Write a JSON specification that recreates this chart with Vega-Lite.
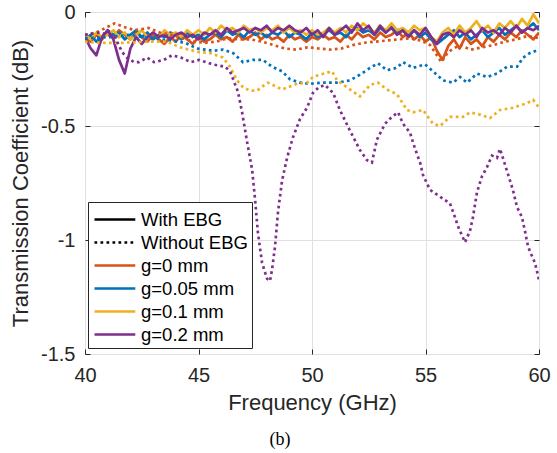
{
"$schema":"https://vega.github.io/schema/vega-lite/v6.json",
"width":454,"height":342,
"autosize":{"type":"none"},
"padding":{"left":85,"top":12,"right":18,"bottom":99},
"background":"white",
"config":{"view":{"stroke":"#262626","strokeWidth":1},"font":"Liberation Sans"},
"title":{"text":"(b)","orient":"bottom","font":"Liberation Serif","fontSize":18,"fontWeight":"normal","color":"#000000","offset":18,"dx":-32},
"resolve":{"axis":{"x":"independent","y":"independent"}},
"datasets":{
"solid":[
{"f":40.00,"g0":-0.11,"g005":-0.12,"g01":-0.10,"g02":-0.11},
{"f":40.25,"g0":-0.13,"g005":-0.10,"g01":-0.12,"g02":-0.16},
{"f":40.50,"g0":-0.10,"g005":-0.13,"g01":-0.09,"g02":-0.19},
{"f":40.75,"g0":-0.12,"g005":-0.11,"g01":-0.11,"g02":-0.11},
{"f":41.00,"g0":-0.09,"g005":-0.08,"g01":-0.10,"g02":-0.08},
{"f":41.25,"g0":-0.11,"g005":-0.10,"g01":-0.08,"g02":-0.12},
{"f":41.50,"g0":-0.08,"g005":-0.09,"g01":-0.11,"g02":-0.21},
{"f":41.75,"g0":-0.10,"g005":-0.12,"g01":-0.09,"g02":-0.27},
{"f":42.00,"g0":-0.12,"g005":-0.10,"g01":-0.12,"g02":-0.16},
{"f":42.25,"g0":-0.09,"g005":-0.08,"g01":-0.10,"g02":-0.11},
{"f":42.50,"g0":-0.11,"g005":-0.11,"g01":-0.08,"g02":-0.14},
{"f":42.75,"g0":-0.13,"g005":-0.09,"g01":-0.11,"g02":-0.11},
{"f":43.00,"g0":-0.10,"g005":-0.12,"g01":-0.09,"g02":-0.09},
{"f":43.25,"g0":-0.12,"g005":-0.10,"g01":-0.11,"g02":-0.11},
{"f":43.50,"g0":-0.14,"g005":-0.11,"g01":-0.08,"g02":-0.10},
{"f":43.75,"g0":-0.11,"g005":-0.09,"g01":-0.10,"g02":-0.12},
{"f":44.00,"g0":-0.13,"g005":-0.10,"g01":-0.09,"g02":-0.10},
{"f":44.25,"g0":-0.10,"g005":-0.12,"g01":-0.11,"g02":-0.09},
{"f":44.50,"g0":-0.12,"g005":-0.09,"g01":-0.08,"g02":-0.11},
{"f":44.75,"g0":-0.14,"g005":-0.11,"g01":-0.10,"g02":-0.10},
{"f":45.00,"g0":-0.11,"g005":-0.10,"g01":-0.08,"g02":-0.12},
{"f":45.25,"g0":-0.13,"g005":-0.12,"g01":-0.10,"g02":-0.09},
{"f":45.50,"g0":-0.12,"g005":-0.10,"g01":-0.07,"g02":-0.10},
{"f":45.75,"g0":-0.10,"g005":-0.09,"g01":-0.09,"g02":-0.08},
{"f":46.00,"g0":-0.12,"g005":-0.11,"g01":-0.06,"g02":-0.10},
{"f":46.25,"g0":-0.11,"g005":-0.08,"g01":-0.08,"g02":-0.07},
{"f":46.50,"g0":-0.13,"g005":-0.10,"g01":-0.07,"g02":-0.09},
{"f":46.75,"g0":-0.10,"g005":-0.09,"g01":-0.09,"g02":-0.08},
{"f":47.00,"g0":-0.12,"g005":-0.11,"g01":-0.06,"g02":-0.07},
{"f":47.25,"g0":-0.11,"g005":-0.08,"g01":-0.08,"g02":-0.09},
{"f":47.50,"g0":-0.09,"g005":-0.10,"g01":-0.07,"g02":-0.07},
{"f":47.75,"g0":-0.12,"g005":-0.09,"g01":-0.09,"g02":-0.08},
{"f":48.00,"g0":-0.10,"g005":-0.11,"g01":-0.07,"g02":-0.06},
{"f":48.25,"g0":-0.12,"g005":-0.09,"g01":-0.08,"g02":-0.09},
{"f":48.50,"g0":-0.11,"g005":-0.10,"g01":-0.06,"g02":-0.07},
{"f":48.75,"g0":-0.13,"g005":-0.08,"g01":-0.09,"g02":-0.08},
{"f":49.00,"g0":-0.10,"g005":-0.11,"g01":-0.07,"g02":-0.06},
{"f":49.25,"g0":-0.12,"g005":-0.09,"g01":-0.09,"g02":-0.08},
{"f":49.50,"g0":-0.11,"g005":-0.10,"g01":-0.08,"g02":-0.09},
{"f":49.75,"g0":-0.13,"g005":-0.12,"g01":-0.10,"g02":-0.07},
{"f":50.00,"g0":-0.11,"g005":-0.09,"g01":-0.08,"g02":-0.10},
{"f":50.25,"g0":-0.12,"g005":-0.11,"g01":-0.10,"g02":-0.08},
{"f":50.50,"g0":-0.10,"g005":-0.10,"g01":-0.09,"g02":-0.11},
{"f":50.75,"g0":-0.12,"g005":-0.08,"g01":-0.07,"g02":-0.07},
{"f":51.00,"g0":-0.11,"g005":-0.10,"g01":-0.09,"g02":-0.10},
{"f":51.25,"g0":-0.13,"g005":-0.09,"g01":-0.07,"g02":-0.08},
{"f":51.50,"g0":-0.10,"g005":-0.11,"g01":-0.09,"g02":-0.06},
{"f":51.75,"g0":-0.12,"g005":-0.08,"g01":-0.06,"g02":-0.09},
{"f":52.00,"g0":-0.09,"g005":-0.07,"g01":-0.08,"g02":-0.05},
{"f":52.25,"g0":-0.11,"g005":-0.09,"g01":-0.05,"g02":-0.08},
{"f":52.50,"g0":-0.10,"g005":-0.08,"g01":-0.07,"g02":-0.06},
{"f":52.75,"g0":-0.12,"g005":-0.10,"g01":-0.09,"g02":-0.10},
{"f":53.00,"g0":-0.09,"g005":-0.07,"g01":-0.06,"g02":-0.06},
{"f":53.25,"g0":-0.11,"g005":-0.09,"g01":-0.08,"g02":-0.09},
{"f":53.50,"g0":-0.10,"g005":-0.06,"g01":-0.05,"g02":-0.07},
{"f":53.75,"g0":-0.08,"g005":-0.09,"g01":-0.08,"g02":-0.10},
{"f":54.00,"g0":-0.11,"g005":-0.08,"g01":-0.07,"g02":-0.08},
{"f":54.25,"g0":-0.09,"g005":-0.10,"g01":-0.09,"g02":-0.11},
{"f":54.50,"g0":-0.12,"g005":-0.08,"g01":-0.06,"g02":-0.08},
{"f":54.75,"g0":-0.10,"g005":-0.11,"g01":-0.08,"g02":-0.10},
{"f":55.00,"g0":-0.13,"g005":-0.09,"g01":-0.07,"g02":-0.07},
{"f":55.25,"g0":-0.11,"g005":-0.12,"g01":-0.11,"g02":-0.11},
{"f":55.50,"g0":-0.17,"g005":-0.14,"g01":-0.13,"g02":-0.14},
{"f":55.75,"g0":-0.21,"g005":-0.12,"g01":-0.09,"g02":-0.10},
{"f":56.00,"g0":-0.15,"g005":-0.10,"g01":-0.07,"g02":-0.09},
{"f":56.25,"g0":-0.12,"g005":-0.08,"g01":-0.10,"g02":-0.11},
{"f":56.50,"g0":-0.16,"g005":-0.11,"g01":-0.06,"g02":-0.08},
{"f":56.75,"g0":-0.11,"g005":-0.09,"g01":-0.09,"g02":-0.10},
{"f":57.00,"g0":-0.14,"g005":-0.12,"g01":-0.07,"g02":-0.08},
{"f":57.25,"g0":-0.12,"g005":-0.10,"g01":-0.04,"g02":-0.11},
{"f":57.50,"g0":-0.15,"g005":-0.08,"g01":-0.08,"g02":-0.07},
{"f":57.75,"g0":-0.11,"g005":-0.11,"g01":-0.06,"g02":-0.09},
{"f":58.00,"g0":-0.13,"g005":-0.09,"g01":-0.09,"g02":-0.08},
{"f":58.25,"g0":-0.10,"g005":-0.07,"g01":-0.05,"g02":-0.10},
{"f":58.50,"g0":-0.12,"g005":-0.10,"g01":-0.07,"g02":-0.07},
{"f":58.75,"g0":-0.09,"g005":-0.08,"g01":-0.04,"g02":-0.09},
{"f":59.00,"g0":-0.11,"g005":-0.06,"g01":-0.07,"g02":-0.06},
{"f":59.25,"g0":-0.08,"g005":-0.09,"g01":-0.03,"g02":-0.09},
{"f":59.50,"g0":-0.10,"g005":-0.07,"g01":-0.06,"g02":-0.07},
{"f":59.75,"g0":-0.12,"g005":-0.05,"g01":-0.01,"g02":-0.08},
{"f":60.00,"g0":-0.09,"g005":-0.08,"g01":-0.05,"g02":-0.06}
],
"dotted":[
{"f":40,"v":-0.10,"g":"g0"},{"f":40.5,"v":-0.09,"g":"g0"},{"f":41,"v":-0.065,"g":"g0"},{"f":41.3,"v":-0.05,"g":"g0"},{"f":41.7,"v":-0.065,"g":"g0"},{"f":42.2,"v":-0.08,"g":"g0"},{"f":42.8,"v":-0.07,"g":"g0"},{"f":43.3,"v":-0.09,"g":"g0"},{"f":43.8,"v":-0.10,"g":"g0"},{"f":44.3,"v":-0.115,"g":"g0"},{"f":44.8,"v":-0.13,"g":"g0"},{"f":45.3,"v":-0.135,"g":"g0"},{"f":45.8,"v":-0.13,"g":"g0"},{"f":46.3,"v":-0.115,"g":"g0"},{"f":46.8,"v":-0.12,"g":"g0"},{"f":47.3,"v":-0.12,"g":"g0"},{"f":47.8,"v":-0.13,"g":"g0"},{"f":48.3,"v":-0.145,"g":"g0"},{"f":48.8,"v":-0.16,"g":"g0"},{"f":49.3,"v":-0.165,"g":"g0"},{"f":49.8,"v":-0.155,"g":"g0"},{"f":50.3,"v":-0.16,"g":"g0"},{"f":50.8,"v":-0.165,"g":"g0"},{"f":51.3,"v":-0.16,"g":"g0"},{"f":51.8,"v":-0.145,"g":"g0"},{"f":52.3,"v":-0.135,"g":"g0"},{"f":52.8,"v":-0.13,"g":"g0"},{"f":53.3,"v":-0.125,"g":"g0"},{"f":53.8,"v":-0.12,"g":"g0"},{"f":54.3,"v":-0.115,"g":"g0"},{"f":54.8,"v":-0.125,"g":"g0"},{"f":55.2,"v":-0.145,"g":"g0"},{"f":55.5,"v":-0.19,"g":"g0"},{"f":55.7,"v":-0.22,"g":"g0"},{"f":56,"v":-0.175,"g":"g0"},{"f":56.5,"v":-0.145,"g":"g0"},{"f":57,"v":-0.165,"g":"g0"},{"f":57.5,"v":-0.155,"g":"g0"},{"f":58,"v":-0.145,"g":"g0"},{"f":58.5,"v":-0.13,"g":"g0"},{"f":59,"v":-0.12,"g":"g0"},{"f":59.5,"v":-0.105,"g":"g0"},{"f":60,"v":-0.115,"g":"g0"},
{"f":40,"v":-0.115,"g":"g005"},{"f":41.1,"v":-0.11,"g":"g005"},{"f":41.98,"v":-0.10,"g":"g005"},{"f":42.86,"v":-0.115,"g":"g005"},{"f":43.74,"v":-0.125,"g":"g005"},{"f":44.41,"v":-0.135,"g":"g005"},{"f":44.93,"v":-0.16,"g":"g005"},{"f":45.64,"v":-0.17,"g":"g005"},{"f":46.08,"v":-0.165,"g":"g005"},{"f":46.52,"v":-0.18,"g":"g005"},{"f":46.96,"v":-0.22,"g":"g005"},{"f":47.4,"v":-0.21,"g":"g005"},{"f":47.84,"v":-0.21,"g":"g005"},{"f":48.24,"v":-0.24,"g":"g005"},{"f":48.68,"v":-0.26,"g":"g005"},{"f":49.03,"v":-0.295,"g":"g005"},{"f":49.47,"v":-0.31,"g":"g005"},{"f":49.91,"v":-0.315,"g":"g005"},{"f":50.48,"v":-0.31,"g":"g005"},{"f":51.1,"v":-0.31,"g":"g005"},{"f":51.67,"v":-0.30,"g":"g005"},{"f":52.11,"v":-0.275,"g":"g005"},{"f":52.56,"v":-0.245,"g":"g005"},{"f":52.91,"v":-0.225,"g":"g005"},{"f":53.3,"v":-0.255,"g":"g005"},{"f":53.74,"v":-0.245,"g":"g005"},{"f":54.01,"v":-0.22,"g":"g005"},{"f":54.45,"v":-0.245,"g":"g005"},{"f":54.98,"v":-0.23,"g":"g005"},{"f":55.33,"v":-0.26,"g":"g005"},{"f":55.77,"v":-0.30,"g":"g005"},{"f":56.21,"v":-0.31,"g":"g005"},{"f":56.52,"v":-0.285,"g":"g005"},{"f":56.83,"v":-0.31,"g":"g005"},{"f":57.27,"v":-0.27,"g":"g005"},{"f":57.71,"v":-0.285,"g":"g005"},{"f":58.15,"v":-0.27,"g":"g005"},{"f":58.59,"v":-0.24,"g":"g005"},{"f":59.03,"v":-0.24,"g":"g005"},{"f":59.3,"v":-0.20,"g":"g005"},{"f":59.6,"v":-0.18,"g":"g005"},{"f":60,"v":-0.165,"g":"g005"},
{"f":40,"v":-0.13,"g":"g01"},{"f":40.66,"v":-0.135,"g":"g01"},{"f":41.67,"v":-0.135,"g":"g01"},{"f":42.73,"v":-0.13,"g":"g01"},{"f":43.61,"v":-0.13,"g":"g01"},{"f":44.19,"v":-0.155,"g":"g01"},{"f":44.98,"v":-0.175,"g":"g01"},{"f":45.51,"v":-0.18,"g":"g01"},{"f":46.08,"v":-0.20,"g":"g01"},{"f":46.39,"v":-0.24,"g":"g01"},{"f":46.7,"v":-0.30,"g":"g01"},{"f":46.96,"v":-0.33,"g":"g01"},{"f":47.27,"v":-0.345,"g":"g01"},{"f":47.58,"v":-0.345,"g":"g01"},{"f":47.84,"v":-0.325,"g":"g01"},{"f":48.06,"v":-0.31,"g":"g01"},{"f":48.28,"v":-0.32,"g":"g01"},{"f":48.68,"v":-0.34,"g":"g01"},{"f":48.94,"v":-0.33,"g":"g01"},{"f":49.34,"v":-0.315,"g":"g01"},{"f":49.78,"v":-0.31,"g":"g01"},{"f":50.04,"v":-0.285,"g":"g01"},{"f":50.35,"v":-0.275,"g":"g01"},{"f":50.88,"v":-0.26,"g":"g01"},{"f":51.1,"v":-0.30,"g":"g01"},{"f":51.54,"v":-0.33,"g":"g01"},{"f":52.11,"v":-0.37,"g":"g01"},{"f":52.56,"v":-0.32,"g":"g01"},{"f":52.91,"v":-0.31,"g":"g01"},{"f":53.3,"v":-0.34,"g":"g01"},{"f":53.74,"v":-0.36,"g":"g01"},{"f":53.96,"v":-0.395,"g":"g01"},{"f":54.19,"v":-0.43,"g":"g01"},{"f":54.45,"v":-0.44,"g":"g01"},{"f":54.89,"v":-0.43,"g":"g01"},{"f":55.33,"v":-0.49,"g":"g01"},{"f":55.64,"v":-0.50,"g":"g01"},{"f":56.08,"v":-0.46,"g":"g01"},{"f":56.65,"v":-0.46,"g":"g01"},{"f":56.96,"v":-0.44,"g":"g01"},{"f":57.4,"v":-0.45,"g":"g01"},{"f":57.84,"v":-0.465,"g":"g01"},{"f":58.28,"v":-0.43,"g":"g01"},{"f":58.85,"v":-0.42,"g":"g01"},{"f":59.47,"v":-0.40,"g":"g01"},{"f":59.74,"v":-0.385,"g":"g01"},{"f":60,"v":-0.42,"g":"g01"},
{"f":40,"v":-0.10,"g":"g02"},{"f":40.66,"v":-0.09,"g":"g02"},{"f":41.32,"v":-0.11,"g":"g02"},{"f":41.63,"v":-0.175,"g":"g02"},{"f":41.85,"v":-0.20,"g":"g02"},{"f":42.16,"v":-0.22,"g":"g02"},{"f":42.38,"v":-0.22,"g":"g02"},{"f":42.73,"v":-0.20,"g":"g02"},{"f":43.04,"v":-0.22,"g":"g02"},{"f":43.48,"v":-0.21,"g":"g02"},{"f":43.83,"v":-0.19,"g":"g02"},{"f":44.23,"v":-0.20,"g":"g02"},{"f":44.67,"v":-0.22,"g":"g02"},{"f":45.02,"v":-0.21,"g":"g02"},{"f":45.64,"v":-0.23,"g":"g02"},{"f":46.17,"v":-0.24,"g":"g02"},{"f":46.39,"v":-0.26,"g":"g02"},{"f":46.74,"v":-0.35,"g":"g02"},{"f":46.92,"v":-0.44,"g":"g02"},{"f":47.14,"v":-0.57,"g":"g02"},{"f":47.36,"v":-0.69,"g":"g02"},{"f":47.49,"v":-0.82,"g":"g02"},{"f":47.62,"v":-0.97,"g":"g02"},{"f":47.8,"v":-1.10,"g":"g02"},{"f":48.02,"v":-1.17,"g":"g02"},{"f":48.15,"v":-1.18,"g":"g02"},{"f":48.24,"v":-1.13,"g":"g02"},{"f":48.37,"v":-1.03,"g":"g02"},{"f":48.5,"v":-0.88,"g":"g02"},{"f":48.68,"v":-0.74,"g":"g02"},{"f":48.9,"v":-0.64,"g":"g02"},{"f":49.16,"v":-0.55,"g":"g02"},{"f":49.47,"v":-0.47,"g":"g02"},{"f":49.78,"v":-0.42,"g":"g02"},{"f":50.04,"v":-0.355,"g":"g02"},{"f":50.3,"v":-0.33,"g":"g02"},{"f":50.57,"v":-0.32,"g":"g02"},{"f":50.93,"v":-0.355,"g":"g02"},{"f":51.23,"v":-0.43,"g":"g02"},{"f":51.67,"v":-0.52,"g":"g02"},{"f":52.11,"v":-0.605,"g":"g02"},{"f":52.42,"v":-0.65,"g":"g02"},{"f":52.64,"v":-0.66,"g":"g02"},{"f":52.86,"v":-0.56,"g":"g02"},{"f":53.22,"v":-0.49,"g":"g02"},{"f":53.52,"v":-0.46,"g":"g02"},{"f":53.79,"v":-0.44,"g":"g02"},{"f":54.01,"v":-0.49,"g":"g02"},{"f":54.32,"v":-0.53,"g":"g02"},{"f":54.54,"v":-0.60,"g":"g02"},{"f":54.76,"v":-0.66,"g":"g02"},{"f":54.89,"v":-0.715,"g":"g02"},{"f":55.2,"v":-0.78,"g":"g02"},{"f":55.64,"v":-0.81,"g":"g02"},{"f":56.08,"v":-0.84,"g":"g02"},{"f":56.3,"v":-0.90,"g":"g02"},{"f":56.43,"v":-0.94,"g":"g02"},{"f":56.74,"v":-1.01,"g":"g02"},{"f":56.96,"v":-0.96,"g":"g02"},{"f":57.09,"v":-0.90,"g":"g02"},{"f":57.27,"v":-0.79,"g":"g02"},{"f":57.49,"v":-0.72,"g":"g02"},{"f":57.71,"v":-0.68,"g":"g02"},{"f":57.93,"v":-0.63,"g":"g02"},{"f":58.15,"v":-0.64,"g":"g02"},{"f":58.28,"v":-0.60,"g":"g02"},{"f":58.41,"v":-0.64,"g":"g02"},{"f":58.63,"v":-0.71,"g":"g02"},{"f":58.85,"v":-0.78,"g":"g02"},{"f":59.03,"v":-0.855,"g":"g02"},{"f":59.25,"v":-0.90,"g":"g02"},{"f":59.38,"v":-0.96,"g":"g02"},{"f":59.52,"v":-1.03,"g":"g02"},{"f":59.69,"v":-1.07,"g":"g02"},{"f":59.82,"v":-1.10,"g":"g02"},{"f":60,"v":-1.175,"g":"g02"}
]},
"layer":[
{"data":{"name":"solid"},
 "transform":[{"fold":["g0","g005","g01","g02"],"as":["g","v"]}],
 "mark":{"type":"line","strokeWidth":2.7,"clip":true,"strokeJoin":"round"},
 "encoding":{
  "x":{"field":"f","type":"quantitative","scale":{"domain":[40,60],"nice":false,"zero":false},
       "axis":{"orient":"bottom","values":[40,45,50,55,60],"tickSize":-5,"tickColor":"#262626","domain":false,"grid":true,"gridColor":"#e0e0e0","labelFontSize":20,"labelFont":"Liberation Sans","labelColor":"#262626","labelPadding":16,"labelFlush":false,"labelOverlap":false,"title":"Frequency (GHz)","titleFont":"Liberation Sans","titleFontSize":22,"titleFontWeight":"normal","titleColor":"#262626","titlePadding":7}},
  "y":{"field":"v","type":"quantitative","scale":{"domain":[-1.5,0],"nice":false,"zero":false},
       "axis":{"orient":"left","values":[-1.5,-1,-0.5,0],"labelExpr":"'' + datum.value","tickSize":-5,"tickColor":"#262626","domain":false,"grid":true,"gridColor":"#e0e0e0","labelFontSize":20,"labelFont":"Liberation Sans","labelColor":"#262626","labelPadding":15,"labelFlush":false,"labelOverlap":false,"title":"Transmission Coefficient (dB)","titleFont":"Liberation Sans","titleFontSize":22,"titleFontWeight":"normal","titleColor":"#262626","titlePadding":8}},
  "color":{"field":"g","type":"nominal",
     "scale":{"domain":["With EBG","Without EBG","g0","g005","g01","g02"],"range":["#000000","#000000","#D95319","#0072BD","#EDB120","#7E2F8E"]},
     "legend":{"orient":"none","legendX":3,"legendY":190,"title":null,"symbolType":"M-1.7,0H1.7","symbolSize":576,"symbolStrokeWidth":2.7,"symbolOffset":9.4,"labelOffset":12.6,"labelFontSize":18.5,"labelFont":"Liberation Sans","labelColor":"#000000","padding":4,"rowPadding":0,"strokeColor":"#262626","fillColor":"white",
       "labelExpr":"datum.value == 'g0' ? 'g=0 mm' : datum.value == 'g005' ? 'g=0.05 mm' : datum.value == 'g01' ? 'g=0.1 mm' : datum.value == 'g02' ? 'g=0.2 mm' : datum.value",
       "encode":{"symbols":{"update":{"strokeDash":{"signal":"datum.value == 'Without EBG' ? [2.7,3.3] : [1,0]"},"fill":{"value":"transparent"}}}}}}
 }},
{"data":{"name":"dotted"},
 "mark":{"type":"line","strokeWidth":2.7,"strokeDash":[2.7,3.3],"strokeCap":"butt","clip":true},
 "encoding":{
  "x":{"field":"f","type":"quantitative","axis":{"orient":"top","values":[40,45,50,55,60],"tickSize":-5,"tickColor":"#262626","domain":false,"grid":false,"labels":false,"title":null}},
  "y":{"field":"v","type":"quantitative","axis":{"orient":"right","values":[-1.5,-1,-0.5,0],"tickSize":-5,"tickColor":"#262626","domain":false,"grid":false,"labels":false,"title":null}},
  "color":{"field":"g","type":"nominal","legend":{"orient":"none","legendX":3,"legendY":190,"title":null,"symbolType":"M-1.7,0H1.7","symbolSize":576,"symbolStrokeWidth":2.7,"symbolOffset":9.4,"labelOffset":12.6,"labelFontSize":18.5,"labelFont":"Liberation Sans","labelColor":"#000000","padding":4,"rowPadding":0,"strokeColor":"#262626","fillColor":"white",
       "labelExpr":"datum.value == 'g0' ? 'g=0 mm' : datum.value == 'g005' ? 'g=0.05 mm' : datum.value == 'g01' ? 'g=0.1 mm' : datum.value == 'g02' ? 'g=0.2 mm' : datum.value",
       "encode":{"symbols":{"update":{"strokeDash":{"signal":"datum.value == 'Without EBG' ? [2.7,3.3] : [1,0]"},"fill":{"value":"transparent"}}}}}}
 }}
]
}
